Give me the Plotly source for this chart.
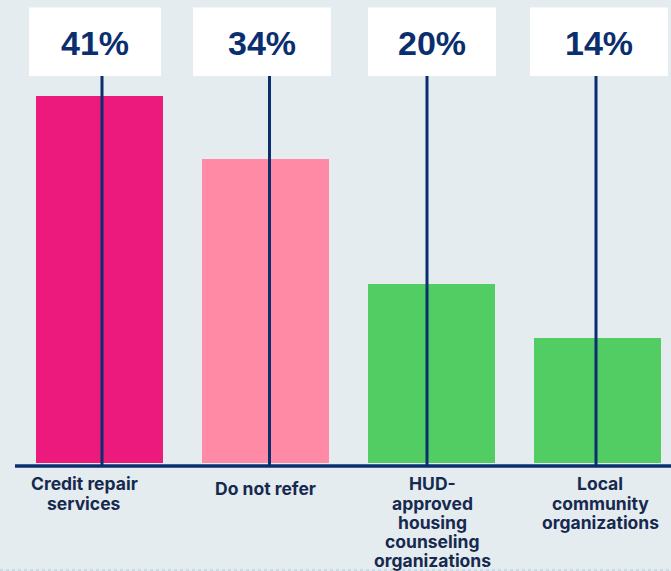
import plotly.graph_objects as go

# Referral sources and their shares (%)
categories = ["Credit repair services", "Do not refer",
              "HUD-approved housing counseling organizations",
              "Local community organizations"]
label_lines = [["Credit repair", "services"],
               ["Do not refer"],
               ["HUD-", "approved", "housing", "counseling", "organizations"],
               ["Local", "community", "organizations"]]
shares = [41, 34, 20, 14]
bar_colors = ["#EC1A7D", "#FF8AA5", "#52CD63", "#52CD63"]

BG = "#E5ECF0"
NAVY = "#0B2F6E"
LABEL_NAVY = "#16294F"
VALUE_FONT = "Liberation Sans, Arial"
LABEL_FONT = "Inter, Liberation Sans, Arial"

W, H = 671, 571
PLOT_H = 463                 # pixel height of the plotting area (top margin 0)
PX_PER_PCT = 8.95
X0_PX, PX_PER_CAT = 99, 166  # pixel position of first category and spacing

x = list(range(len(categories)))
x_range = [-X0_PX / PX_PER_CAT, (W - X0_PX) / PX_PER_CAT]
y_top = PLOT_H / PX_PER_PCT

fig = go.Figure()
fig.add_trace(go.Bar(
    x=x, y=shares, width=127 / PX_PER_CAT,
    marker=dict(color=bar_colors, line=dict(width=0)),
    hoverinfo="skip", showlegend=False,
))

def py(px):
    """Convert a pixel row (from the top) to paper y."""
    return 1 - px / PLOT_H

def dx(px):
    """Convert a horizontal pixel offset to x-axis units."""
    return px / PX_PER_CAT

# small hand-placed nudges (pixels) for boxes, leader lines and labels
box_shift = [-4, -3, 1, 2]
box_width = [132, 138, 128, 138]
line_shift = [3, 4.5, -4, -1]
label_shift = [-15, 0, 1, 3]

shapes = []
annotations = []
for i, (xi, v) in enumerate(zip(x, shares)):
    lx = xi + dx(line_shift[i])
    # vertical leader line from the value box down to the baseline
    shapes.append(dict(type="line", xref="x", yref="paper",
                       x0=lx, x1=lx, y0=py(76), y1=py(465),
                       line=dict(color=NAVY, width=3), layer="above"))
    # white value box
    bx = xi + dx(box_shift[i])
    half = dx(box_width[i] / 2)
    shapes.append(dict(type="rect", xref="x", yref="paper",
                       x0=bx - half, x1=bx + half, y0=py(76), y1=py(7.5),
                       fillcolor="white", line=dict(width=0), layer="above"))
    annotations.append(dict(x=bx, y=py(43), xref="x", yref="paper",
                            text=f"<b>{v}%</b>", showarrow=False,
                            xanchor="center", yanchor="middle",
                            font=dict(family=VALUE_FONT, size=34, color=NAVY)))
    # category label, one annotation per line for tight spacing
    n = len(label_lines[i])
    for j, line in enumerate(label_lines[i]):
        annotations.append(dict(x=xi, y=py(484 + 19 * j + (4 if n == 1 else 0)),
                                xref="x", yref="paper", xshift=label_shift[i],
                                text=f"<b>{line}</b>", showarrow=False,
                                xanchor="center", yanchor="middle",
                                font=dict(family=LABEL_FONT, size=17.5,
                                          color=LABEL_NAVY)))

# baseline
shapes.append(dict(type="line", xref="paper", yref="paper",
                   x0=15 / W, x1=1, y0=py(466), y1=py(466),
                   line=dict(color=NAVY, width=3.5), layer="above"))
# faint dotted rule along the bottom edge
shapes.append(dict(type="line", xref="paper", yref="paper",
                   x0=0, x1=1, y0=py(570), y1=py(570),
                   line=dict(color="#A9C9DC", width=1, dash="dot"), layer="above"))

fig.update_layout(
    width=W, height=H,
    margin=dict(l=0, r=0, t=0, b=H - PLOT_H),
    paper_bgcolor=BG, plot_bgcolor=BG,
    xaxis=dict(range=x_range, visible=False, fixedrange=True),
    yaxis=dict(range=[0, y_top], visible=False, fixedrange=True),
    shapes=shapes, annotations=annotations,
    bargap=0,
)

fig.write_html("out.html")
